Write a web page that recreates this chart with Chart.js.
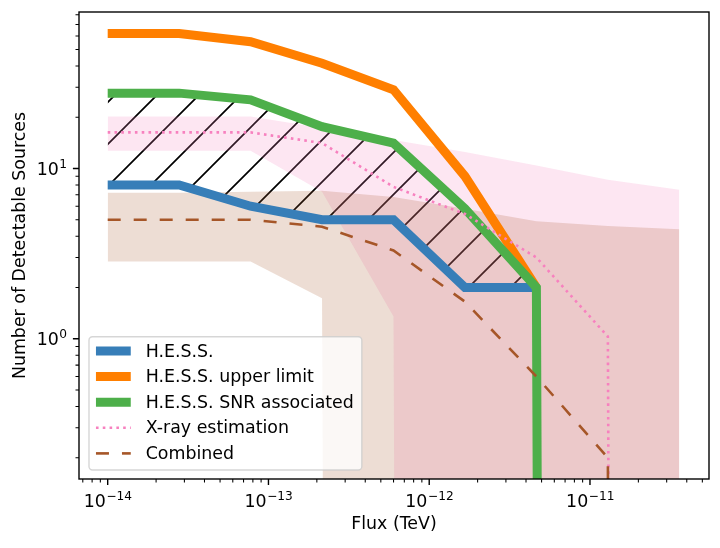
<!DOCTYPE html>
<html>
<head>
<meta charset="utf-8">
<script src="https://cdn.jsdelivr.net/npm/chart.js@4.4.0/dist/chart.umd.min.js"></script>
<style>
  html, body { margin: 0; padding: 0; background: #fff; }
  canvas { display: block; }
</style>
</head>
<body>
<canvas id="myChart" width="720" height="548"></canvas>
<script>
// flux grid (TeV)
const flux = [1e-14, 2.783e-14, 7.743e-14, 2.154e-13, 5.995e-13, 1.668e-12, 4.642e-12, 1.292e-11, 3.594e-11];

// number of detectable sources
const hess = [8, 8, 6, 5, 5, 2, 2];
const hessUpper = [62, 62, 55.5, 41.5, 29, 9, 2];
const hessSnr = [27.7, 27.7, 25.3, 17.6, 14.1, 5.8, 2, 0];
const xray = [16.3, 16.3, 16.3, 14.1, 7.8, 5.4, 3.0, 1.03, 0];
const xrayLow = [12.7, 12.7, 12.7, 7.3, 1.35, 0, 0, 0, 0];
const xrayHigh = [20.2, 20.2, 20.2, 17.3, 14.7, 12.5, 10.4, 8.6, 7.5];
const combined = [5.0, 5.0, 5.0, 4.55, 3.3, 1.65, 0.6, 0.2, 0];
const combinedLow = [2.84, 2.84, 2.84, 1.73, 0, 0, 0, 0, 0];
const combinedHigh = [7.2, 7.2, 7.3, 7.4, 6.8, 5.8, 4.9, 4.6, 4.4];

const xTicks = [1e-14, 1e-13, 1e-12, 1e-11];
const yTicks = [1, 10];

const FS = 17.4;
const FONT = '"DejaVu Sans", sans-serif';
Chart.defaults.font.family = FONT;
Chart.defaults.font.size = FS;
Chart.defaults.color = '#000';

// on a log axis matplotlib clips non-positive values to a tiny number
function points(ys) {
    return ys.map(function (y, i) { return {x: flux[i], y: y > 0 ? y : 1e-100}; });
}

// "/" hatch
let pc = document.createElement('canvas');
pc.width = 42; pc.height = 42;
let pctx = pc.getContext('2d');
pctx.strokeStyle = '#000';
pctx.lineWidth = 1.7;
pctx.beginPath();
pctx.moveTo(-2, 44); pctx.lineTo(44, -2);
pctx.moveTo(-2, 2); pctx.lineTo(2, -2);
pctx.moveTo(40, 44); pctx.lineTo(44, 40);
pctx.stroke();

var ctx = document.getElementById('myChart').getContext('2d');
let hatch = ctx.createPattern(pc, 'repeat');

function lineSet(label, ys, color, width, dash, order) {
    return {
        label: label, data: points(ys), borderColor: color, borderWidth: width,
        borderDash: dash, borderCapStyle: 'butt', borderJoinStyle: 'miter',
        pointRadius: 0, fill: false, order: order, clip: 0
    };
}
function bandSet(ys, fill, color, order) {
    return {
        label: '', data: points(ys), borderColor: 'rgba(0,0,0,0)', borderWidth: 0,
        backgroundColor: color, pointRadius: 0, fill: fill, order: order, clip: 0
    };
}

const datasets = [
    bandSet(hessSnr.slice(0, hess.length), '+1', hatch, 8),
    lineSet('H.E.S.S.', hess, '#377eb8', 9, [], 5),
    lineSet('H.E.S.S. upper limit', hessUpper, '#ff7f00', 9, [], 4),
    lineSet('H.E.S.S. SNR associated', hessSnr, '#4daf4a', 9, [], 3),
    lineSet('X-ray estimation', xray, '#f781bf', 2.6, [2.6, 4.2], 2),
    lineSet('Combined', combined, '#a65628', 2.6, [13, 13], 1),
    bandSet(xrayHigh, '+1', 'rgba(247,129,191,0.2)', 7),
    bandSet(xrayLow, false, 'rgba(0,0,0,0)', 7),
    bandSet(combinedHigh, '+1', 'rgba(166,86,40,0.2)', 6),
    bandSet(combinedLow, false, 'rgba(0,0,0,0)', 6)
];
const legendIdx = [1, 2, 3, 4, 5];

// 10^n drawn like mathtext: base, then a smaller raised exponent
function powText(c, v, x, base, align) {
    const e = String(Math.round(Math.log10(v))).replace('-', '\u2212');
    c.font = FS + 'px ' + FONT;
    const wb = c.measureText('10').width;
    c.font = (FS * 0.7) + 'px ' + FONT;
    const we = c.measureText(e).width;
    const x0 = align === 'center' ? x - (wb + we) / 2 : x - wb - we;
    c.textAlign = 'left';
    c.textBaseline = 'alphabetic';
    c.font = FS + 'px ' + FONT;
    c.fillText('10', x0, base);
    c.font = (FS * 0.7) + 'px ' + FONT;
    c.fillText(e, x0 + wb + 0.5, base - 0.42 * FS);
}

// box, ticks, tick labels and legend
const frame = {
    id: 'frame',
    afterDatasetsDraw(chart) {
        const c = chart.ctx, a = chart.chartArea, xs = chart.scales.x, ys = chart.scales.y;
        c.save();
        c.strokeStyle = '#000';
        [[1, 6.1, 1.39], [0, 3.5, 1.05]].forEach(function (t) {
            c.lineWidth = t[2];
            c.beginPath();
            for (let d = -16; d <= -9; d++) {
                for (let m = 1; m < 10; m++) {
                    if ((m === 1) !== (t[0] === 1)) continue;
                    let v = m * Math.pow(10, d);
                    if (v < xs.min || v > xs.max) continue;
                    let px = xs.getPixelForValue(v);
                    c.moveTo(px, a.bottom); c.lineTo(px, a.bottom + t[1]);
                }
            }
            for (let d = -2; d <= 2; d++) {
                for (let m = 1; m < 10; m++) {
                    if ((m === 1) !== (t[0] === 1)) continue;
                    let v = m * Math.pow(10, d);
                    if (v < ys.min || v > ys.max) continue;
                    let py = ys.getPixelForValue(v);
                    c.moveTo(a.left, py); c.lineTo(a.left - t[1], py);
                }
            }
            c.stroke();
        });
        c.lineWidth = 1.39;
        c.strokeRect(a.left, a.top, a.right - a.left, a.bottom - a.top);
        c.restore();
    },
    afterDraw(chart) {
        const c = chart.ctx, a = chart.chartArea, xs = chart.scales.x, ys = chart.scales.y;
        c.save();
        c.fillStyle = '#000';
        xTicks.forEach(function (v) {
            powText(c, v, xs.getPixelForValue(v), a.bottom + 28.2, 'center');
        });
        yTicks.forEach(function (v) {
            powText(c, v, a.left - 12.4, ys.getPixelForValue(v) + 6.4, 'right');
        });

        c.font = FS + 'px ' + FONT;
        let textW = 0;
        legendIdx.forEach(function (i) {
            textW = Math.max(textW, c.measureText(chart.data.datasets[i].label).width);
        });
        const pad = 0.4 * FS, handle = 2 * FS, gap = 0.8 * FS, rowH = 25.6;
        const left = a.left + 10, bottom = a.bottom - 9;
        const w = 2 * pad + handle + gap + textW + 2, h = 133.3;
        const top = bottom - h;
        c.beginPath();
        c.roundRect(left, top, w, h, 0.2 * FS);
        c.fillStyle = 'rgba(255,255,255,0.8)';
        c.fill();
        c.strokeStyle = 'rgba(204,204,204,0.8)';
        c.lineWidth = 1.39;
        c.stroke();
        legendIdx.forEach(function (i, k) {
            const ds = chart.data.datasets[i];
            const cy = top + 14.3 + k * rowH;
            c.save();
            c.strokeStyle = ds.borderColor;
            c.lineWidth = ds.borderWidth;
            c.lineCap = 'butt';
            c.setLineDash(ds.borderDash || []);
            c.beginPath();
            c.moveTo(left + pad, cy);
            c.lineTo(left + pad + handle, cy);
            c.stroke();
            c.restore();
            c.fillStyle = '#000';
            c.textBaseline = 'middle';
            c.textAlign = 'left';
            c.fillText(ds.label, left + pad + handle + gap + 1, cy + 1);
        });
        c.restore();
    }
};

var chart = new Chart(ctx, {
    type: 'line',
    data: { datasets: datasets },
    options: {
        responsive: false,
        animation: false,
        events: [],
        layout: { padding: { left: 0, top: 12, right: 11, bottom: 0 }, autoPadding: false },
        plugins: { legend: { display: false }, tooltip: { enabled: false } },
        scales: {
            x: {
                type: 'logarithmic',
                min: 6.63e-15,
                max: 5.5e-11,
                grid: { display: false, drawTicks: false },
                border: { display: false },
                ticks: { display: false },
                afterBuildTicks: function (scale) {
                    scale.ticks = xTicks.map(function (v) { return {value: v}; });
                },
                afterFit: function (scale) { scale.height = 69; },
                title: { display: true, text: 'Flux (TeV)', padding: { top: 0, bottom: 13 } }
            },
            y: {
                type: 'logarithmic',
                min: 0.15,
                max: 83,
                grid: { display: false, drawTicks: false },
                border: { display: false },
                ticks: { display: false },
                afterBuildTicks: function (scale) {
                    scale.ticks = yTicks.map(function (v) { return {value: v}; });
                },
                afterFit: function (scale) { scale.width = 79; },
                title: { display: true, text: 'Number of Detectable Sources', padding: { top: 10.5, bottom: 0 } }
            }
        }
    },
    plugins: [frame]
});
</script>
</body>
</html>
